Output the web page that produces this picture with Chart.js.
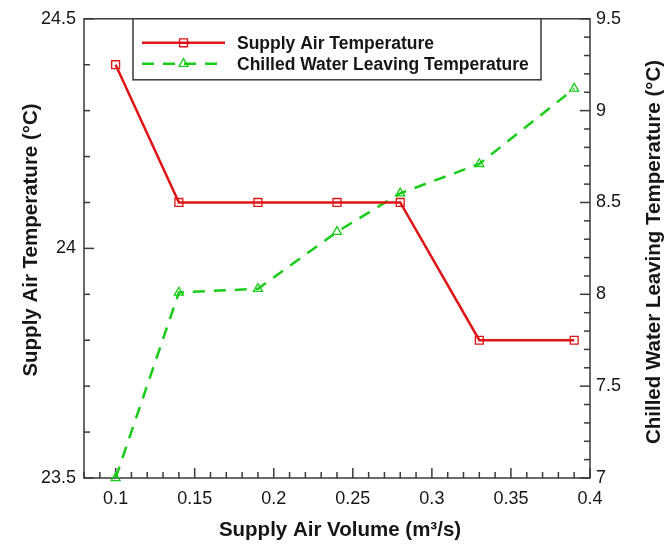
<!DOCTYPE html>
<html>
<head>
<meta charset="utf-8">
<script src="https://cdn.jsdelivr.net/npm/chart.js@4.4.1/dist/chart.umd.min.js"></script>
<style>
  html, body { margin: 0; padding: 0; background: #ffffff; }
  canvas { display: block; }
</style>
</head>
<body>
<canvas id="chart" width="667" height="549"></canvas>
<script>
// ---- data ----
const airVolume = [0.10, 0.14, 0.19, 0.24, 0.28, 0.33, 0.39];
const supplyAirTemp = [24.4, 24.1, 24.1, 24.1, 24.1, 23.8, 23.8];
const chilledWaterTemp = [7.0, 8.01, 8.03, 8.34, 8.55, 8.71, 9.12];

const xTickValues = [0.1, 0.15, 0.2, 0.25, 0.3, 0.35, 0.4];
const leftTickValues = [23.5, 24, 24.5];
const rightTickValues = [7, 7.5, 8, 8.5, 9, 9.5];

const seriesNames = ['Supply Air Temperature', 'Chilled Water Leaving Temperature'];
const xTitle = 'Supply Air Volume (m³/s)';
const leftTitle = 'Supply Air Temperature (°C)';
const rightTitle = 'Chilled Water Leaving Temperature (°C)';

// ---- styling ----
const FONT = '"Liberation Sans", Arial, Helvetica, sans-serif';
const TEXT = '#161616';
const FRAME = '#3a3a3a';
const RED = '#e01414';
const GREEN = '#18cc18';

const toPoints = (xs, ys) => xs.map((x, i) => ({ x, y: ys[i] }));
const fmt = v => String(Number(v.toFixed(3)));

// frame, inward major/minor ticks, boxed legend and axis titles
const framePlugin = {
  id: 'frameTicks',
  beforeDatasetsDraw(chart) {
    const { ctx, chartArea: a, scales } = chart;
    ctx.save();
    ctx.strokeStyle = FRAME;
    ctx.lineWidth = 1.5;
    const seg = (x1, y1, x2, y2) => { ctx.beginPath(); ctx.moveTo(x1, y1); ctx.lineTo(x2, y2); ctx.stroke(); };
    const MAJ = 10, MIN = 6;
    // x axis: minor every 0.01, major every 0.05
    for (let i = 8; i <= 40; i++) {
      const p = scales.x.getPixelForValue(i / 100);
      seg(p, a.bottom, p, a.bottom - (i % 5 === 0 ? MAJ : MIN));
    }
    // left axis: minor every 0.1, major every 0.5
    for (let i = 235; i <= 245; i++) {
      const p = scales.y.getPixelForValue(i / 10);
      seg(a.left, p, a.left + (i % 5 === 0 ? MAJ : MIN), p);
    }
    // right axis: minor every 0.1, major every 0.5
    for (let i = 70; i <= 95; i++) {
      const p = scales.y1.getPixelForValue(i / 10);
      seg(a.right, p, a.right - (i % 5 === 0 ? MAJ : MIN), p);
    }
    ctx.strokeRect(a.left, a.top, a.right - a.left, a.bottom - a.top);
    ctx.restore();
  },
  afterDatasetsDraw(chart) {
    const { ctx, chartArea: a } = chart;
    ctx.save();
    // legend box
    const bx = 133, by = a.top, bw = 408, bh = 61;
    ctx.fillStyle = '#ffffff';
    ctx.fillRect(bx, by, bw, bh);
    ctx.strokeStyle = FRAME;
    ctx.lineWidth = 1.5;
    ctx.strokeRect(bx, by, bw, bh);
    const rows = [a.top + 24, a.top + 45];
    chart.data.datasets.forEach((ds, i) => {
      const y = rows[i];
      ctx.strokeStyle = ds.borderColor;
      ctx.lineWidth = ds.borderWidth;
      ctx.setLineDash(ds.borderDash || []);
      ctx.beginPath(); ctx.moveTo(142, y); ctx.lineTo(225, y); ctx.stroke();
      ctx.setLineDash([]);
      ctx.lineWidth = ds.pointBorderWidth;
      ctx.strokeStyle = ds.pointBorderColor;
      ctx.fillStyle = ds.pointBackgroundColor;
      Chart.helpers.drawPoint(ctx, {
        pointStyle: ds.pointStyle, radius: ds.pointRadius, rotation: 0, borderWidth: ds.pointBorderWidth
      }, 183.5, y);
      ctx.fillStyle = TEXT;
      ctx.font = 'bold 17.5px ' + FONT;
      ctx.textAlign = 'left';
      ctx.textBaseline = 'middle';
      ctx.fillText(ds.label, 237, y + 1);
    });
    // axis titles
    ctx.fillStyle = TEXT;
    ctx.font = 'bold 20.5px ' + FONT;
    ctx.textAlign = 'center';
    ctx.textBaseline = 'alphabetic';
    ctx.fillText(xTitle, 340, 536);
    ctx.save();
    ctx.translate(37, 240);
    ctx.rotate(-Math.PI / 2);
    ctx.fillText(leftTitle, 0, 0);
    ctx.restore();
    ctx.save();
    ctx.translate(660, 252);
    ctx.rotate(-Math.PI / 2);
    ctx.fillText(rightTitle, 0, 0);
    ctx.restore();
    ctx.restore();
  }
};

const tickFont = { family: FONT, size: 18 };

new Chart(document.getElementById('chart'), {
  type: 'line',
  data: {
    datasets: [
      {
        label: seriesNames[0],
        data: toPoints(airVolume, supplyAirTemp),
        yAxisID: 'y',
        borderColor: RED,
        borderWidth: 2.5,
        pointStyle: 'rect',
        pointRadius: 5.6,
        pointBorderWidth: 1.3,
        pointBorderColor: RED,
        pointBackgroundColor: 'rgba(0,0,0,0)',
        tension: 0,
        clip: false
      },
      {
        label: seriesNames[1],
        data: toPoints(airVolume, chilledWaterTemp),
        yAxisID: 'y1',
        borderColor: GREEN,
        borderWidth: 2.5,
        borderDash: [12, 9],
        pointStyle: 'triangle',
        pointRadius: 5.2,
        pointBorderWidth: 1.3,
        pointBorderColor: GREEN,
        pointBackgroundColor: 'rgba(0,0,0,0)',
        tension: 0,
        clip: false
      }
    ]
  },
  options: {
    responsive: false,
    animation: false,
    devicePixelRatio: 1,
    layout: { padding: { top: 15, left: 0, right: 0, bottom: 0 } },
    plugins: { legend: { display: false }, tooltip: { enabled: false } },
    scales: {
      x: {
        type: 'linear',
        min: 0.08,
        max: 0.4,
        afterBuildTicks: s => { s.ticks = xTickValues.map(v => ({ value: v })); },
        afterFit: s => { s.height = 71; },
        grid: { display: false, drawTicks: false },
        border: { display: false },
        ticks: { font: tickFont, color: TEXT, padding: 10, maxRotation: 0, autoSkip: false, callback: v => fmt(v) }
      },
      y: {
        type: 'linear',
        position: 'left',
        min: 23.5,
        max: 24.5,
        afterBuildTicks: s => { s.ticks = leftTickValues.map(v => ({ value: v })); },
        afterFit: s => { s.width = 84; },
        grid: { display: false, drawTicks: false },
        border: { display: false },
        ticks: { font: tickFont, color: TEXT, padding: 8, autoSkip: false, callback: v => fmt(v) }
      },
      y1: {
        type: 'linear',
        position: 'right',
        min: 7,
        max: 9.5,
        afterBuildTicks: s => { s.ticks = rightTickValues.map(v => ({ value: v })); },
        afterFit: s => { s.width = 77; },
        grid: { display: false, drawTicks: false },
        border: { display: false },
        ticks: { font: tickFont, color: TEXT, padding: 6, autoSkip: false, callback: v => fmt(v) }
      }
    }
  },
  plugins: [framePlugin]
});
</script>
</body>
</html>
